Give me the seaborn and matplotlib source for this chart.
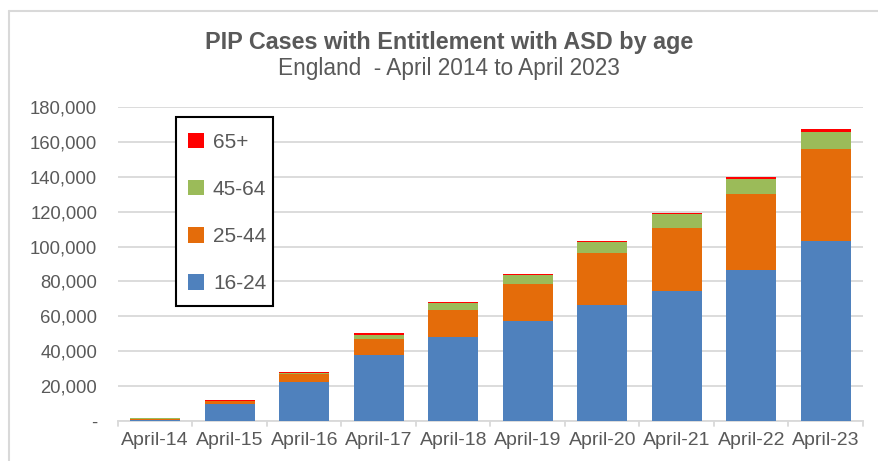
import numpy as np
import pandas as pd
import seaborn as sns
from matplotlib import pyplot as plt
from matplotlib.patches import Patch, Rectangle
from matplotlib.lines import Line2D

# data (cases)
years = ['April-14', 'April-15', 'April-16', 'April-17', 'April-18',
         'April-19', 'April-20', 'April-21', 'April-22', 'April-23']
age_16_24 = [400, 9600, 22500, 37800, 48300, 57100, 66500, 74300, 86600, 103200]
age_25_44 = [900, 1700, 4200, 9200, 15300, 21400, 30000, 36600, 43400, 53000]
age_45_64 = [400, 300, 1100, 2500, 4000, 5400, 6100, 7500, 8700, 9600]
age_65_plus = [100, 400, 400, 700, 600, 600, 800, 1100, 1300, 1500]

groups = ['16-24', '25-44', '45-64', '65+']
colors = ['#4F81BD', '#E46C0A', '#9BBB59', '#FF0000']
grey = '#595959'

df = pd.DataFrame({'year': years, '16-24': age_16_24, '25-44': age_25_44,
                   '45-64': age_45_64, '65+': age_65_plus})
# cumulative heights so each layer can be drawn behind the one below it
cum = df[groups].cumsum(axis=1)

sns.set_style('white')
plt.rcParams['font.family'] = ['Liberation Sans', 'DejaVu Sans']

fig = plt.figure(figsize=(8.79, 4.61), dpi=100)
ax = fig.add_axes([118 / 879, 1 - 421 / 461, (863 - 118) / 879, (421 - 107) / 461])

for g, c in reversed(list(zip(groups, colors))):
    sns.barplot(x=df['year'], y=cum[g], color=c, width=0.67, linewidth=0,
                saturation=1, ax=ax, zorder=3)

ax.set_ylim(0, 180000)
ax.set_xlim(-0.5, len(years) - 0.5)
ax.set_yticks(np.arange(0, 180001, 20000))
ax.set_yticklabels(['-'] + [f'{v:,}' for v in range(20000, 180001, 20000)])
ax.grid(axis='y', color='#d9d9d9', linewidth=1.3, zorder=0)
ax.set_axisbelow(True)
ax.set_xlabel('')
ax.set_ylabel('')
for s in ['top', 'right', 'left']:
    ax.spines[s].set_visible(False)
ax.spines['bottom'].set_color('#d9d9d9')
ax.spines['bottom'].set_linewidth(1.3)
ax.tick_params(axis='y', length=0, labelsize=13.3, labelcolor=grey, pad=15)
ax.tick_params(axis='x', length=0, labelsize=14, labelcolor=grey, pad=8)
# category boundary ticks like Excel
for b in np.arange(-0.5, len(years), 1.0):
    ax.plot([b, b], [0, -3000], color='#d9d9d9', lw=1.3, clip_on=False, zorder=1)

# legend: box drawn by hand so the padding matches
W, H = 745, 314
ax.add_patch(Rectangle(((176 - 118) / W, (421 - 306) / H), (273 - 176) / W, (306 - 117) / H,
                       transform=ax.transAxes, facecolor='white', edgecolor='black',
                       lw=1.5, zorder=5))
handles = [Patch(facecolor=c, edgecolor='none') for c in colors[::-1]]
leg = ax.legend(handles, groups[::-1], loc='upper left',
                bbox_to_anchor=((188 - 118) / W, (421 - 133) / H),
                frameon=False, fontsize=15, labelcolor=grey,
                handlelength=0.75, handleheight=0.75, handletextpad=0.45,
                labelspacing=1.35, borderpad=0, borderaxespad=0)
leg.set_zorder(6)

fig.text(449 / 879, 1 - 43 / 461, 'PIP Cases with Entitlement with ASD by age',
         ha='center', va='center', fontsize=16.8, fontweight='bold', color=grey)
fig.text(449 / 879, 1 - 69 / 461, 'England  - April 2014 to April 2023',
         ha='center', va='center', fontsize=16.3, color=grey)

# chart border
fig.add_artist(Line2D([9 / 879, 1], [1 - 11 / 461] * 2, color='#d9d9d9', lw=1.5))
fig.add_artist(Line2D([9 / 879] * 2, [0, 1 - 11 / 461], color='#d9d9d9', lw=1.5))

fig.savefig('out.png', dpi=100)
